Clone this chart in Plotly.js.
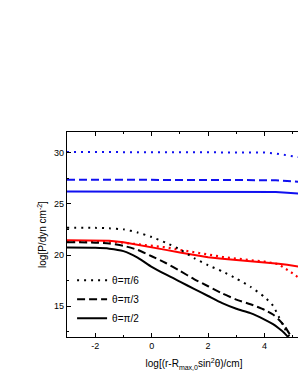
<!DOCTYPE html>
<html>
<head>
<meta charset="utf-8">
<script src="https://cdn.plot.ly/plotly-3.0.1.min.js"></script>
<style>
html,body{margin:0;padding:0;overflow:hidden;background:#fff;width:298px;height:385px;}
#chart{width:325px;height:385px;}
</style>
</head>
<body>
<div id="chart"></div>
<script>
// x grid (log[(r - Rmax,0 sin^2θ)/cm])
const xBlack = [-3, -2, -1.5, -1, -0.5, 0, 0.5, 1, 1.5, 2, 2.5, 3, 3.5, 4, 4.3, 4.5, 4.7, 4.85, 5.0];
const blackPi6 = [22.65, 22.65, 22.6, 22.5, 22.2, 21.75, 21.2, 20.55, 19.7, 19.0, 18.4, 17.7, 16.9, 15.9, 15.05, 14.0, 12.9, 12.2, 11.5];
const blackPi3 = [21.25, 21.2, 21.12, 20.9, 20.5, 19.88, 19.22, 18.45, 17.65, 16.95, 16.25, 15.65, 15.2, 14.65, 14.2, 13.7, 13.1, 12.45, 11.8];
const blackPi2 = [20.72, 20.7, 20.62, 20.38, 19.75, 18.85, 18.1, 17.4, 16.7, 16.0, 15.3, 14.75, 14.33, 13.7, 13.25, 12.85, 12.4, 11.95, 11.6];

const xRed = [-3, -2, -1.5, -1, -0.5, 0, 0.5, 1, 1.5, 2, 2.5, 3, 3.5, 4, 4.5, 4.8, 5.0, 5.2];
const redSolid = [21.43, 21.43, 21.38, 21.25, 20.98, 20.72, 20.5, 20.25, 20.0, 19.78, 19.63, 19.52, 19.42, 19.3, 19.15, 19.05, 18.95, 18.88];
const redDot = [21.3, 21.33, 21.3, 21.2, 21.05, 20.9, 20.75, 20.5, 20.25, 20.02, 19.82, 19.65, 19.5, 19.35, 19.1, 18.6, 18.2, 17.8];

const xBlue = [-3, -2, -1, 0, 1, 2, 3, 3.5, 4, 4.4, 4.8, 5.2];
const bluePi6 = [30.05, 30.05, 30.05, 30.05, 30.05, 30.05, 30.05, 30.05, 30.0, 29.9, 29.75, 29.55];
const bluePi3 = [27.35, 27.35, 27.35, 27.35, 27.35, 27.35, 27.35, 27.35, 27.33, 27.3, 27.22, 27.15];
const bluePi2 = [26.2, 26.2, 26.2, 26.2, 26.2, 26.2, 26.2, 26.2, 26.18, 26.15, 26.08, 26.0];

const legendNames = ['θ=π/6', 'θ=π/3', 'θ=π/2'];
const xTickVals = [-2, 0, 2, 4];
const yTickVals = [15, 20, 25, 30];

const BLUE = '#1010f0', RED = '#ff0000', BLACK = '#000000';
const DOT = '2px,5px', DASH = '8px,4px';

const traces = [
  {x: xBlue, y: bluePi6, mode: 'lines', line: {color: BLUE, width: 2, dash: DOT}, showlegend: false},
  {x: xBlue, y: bluePi3, mode: 'lines', line: {color: BLUE, width: 2, dash: DASH}, showlegend: false},
  {x: xBlue, y: bluePi2, mode: 'lines', line: {color: BLUE, width: 2}, showlegend: false},
  {x: xRed, y: redDot, mode: 'lines', line: {color: RED, width: 2.2, dash: '2px,4px'}, showlegend: false},
  {x: xRed, y: redSolid, mode: 'lines', line: {color: RED, width: 2}, showlegend: false},
  {x: xBlack, y: blackPi6, mode: 'lines', name: legendNames[0], line: {color: BLACK, width: 2, dash: DOT, shape: 'spline', smoothing: 0.6}},
  {x: xBlack, y: blackPi3, mode: 'lines', name: legendNames[1], line: {color: BLACK, width: 2, dash: DASH, shape: 'spline', smoothing: 0.6}},
  {x: xBlack, y: blackPi2, mode: 'lines', name: legendNames[2], line: {color: BLACK, width: 2, shape: 'spline', smoothing: 0.6}}
];

const axisCommon = {
  showgrid: false, zeroline: false, showline: true, linecolor: '#000', linewidth: 1.3,
  mirror: 'ticks', ticks: 'inside', ticklen: 4, tickwidth: 1, tickcolor: '#000',
  tickfont: {family: 'Liberation Sans, Arial, sans-serif', size: 9, color: '#000'}
};

const layout = {
  width: 325, height: 385,
  margin: {l: 67, r: 4, t: 132, b: 48, autoexpand: false},
  paper_bgcolor: '#fff', plot_bgcolor: '#fff',
  font: {family: 'Liberation Sans, Arial, sans-serif', color: '#000'},
  xaxis: Object.assign({}, axisCommon, {
    range: [-3, 6], tickvals: xTickVals, ticktext: xTickVals.map(String),
    minor: {dtick: 1, tick0: 0, ticks: 'inside', ticklen: 2, tickcolor: '#000'},
    title: {text: 'log[(r-R<sub>max,0</sub>sin<sup>2</sup>θ)/cm]', font: {size: 10}, standoff: 10}
  }),
  yaxis: Object.assign({}, axisCommon, {
    range: [12, 32], tickvals: yTickVals, ticktext: yTickVals.map(String),
    minor: {dtick: 2.5, tick0: 0, ticks: 'inside', ticklen: 2, tickcolor: '#000'},
    title: {text: 'log[P/dyn cm<sup>-2</sup>]', font: {size: 10}, standoff: 5}
  }),
  legend: {x: 0.02, y: 0.021, xanchor: 'left', yanchor: 'bottom', bgcolor: 'rgba(0,0,0,0)',
    font: {size: 10}, tracegroupgap: 0, itemwidth: 30},
  showlegend: true
};

Plotly.newPlot('chart', traces, layout, {staticPlot: true, displayModeBar: false});
</script>
</body>
</html>
